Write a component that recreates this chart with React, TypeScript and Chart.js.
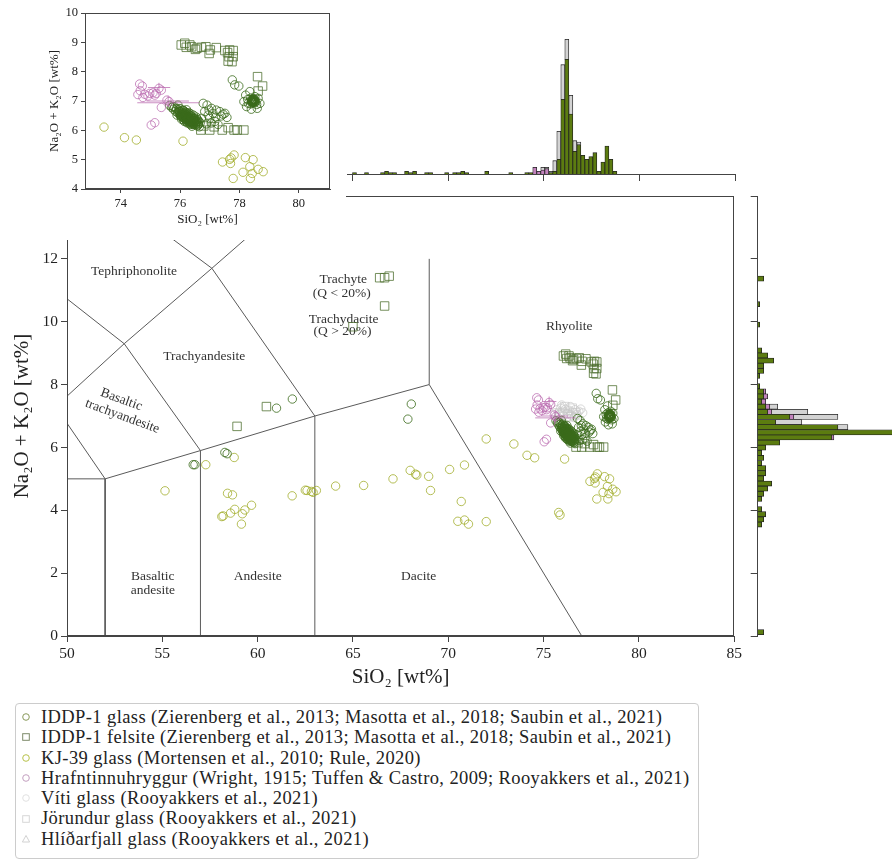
import React, { useEffect, useRef } from 'react';
import { Chart, registerables } from 'chart.js';
Chart.register(...registerables);

const FONT = "'Liberation Serif', 'Times New Roman', serif";
Chart.defaults.font.family = FONT;

// ---------- ticks ----------
const mainXTicks = [50, 55, 60, 65, 70, 75, 80, 85];
const mainYTicks = [0, 2, 4, 6, 8, 10, 12, 14];
const insetXTicks = [74, 76, 78, 80];
const insetYTicks = [4, 5, 6, 7, 8, 9, 10];
const topHistTicks = [65, 70, 75, 80, 85];
const rightHistTicks = [0, 2, 4, 6, 8, 10, 12, 14];

// ---------- TAS boundaries (SiO2, Na2O+K2O) ----------
const tasB1 = [[50, 5], [52, 5], [52, 0]];
const tasB2 = [[52, 5], [57, 5.9], [63, 7], [69, 8], [77, 0]];
const tasB3 = [[57, 0], [57, 5.9]];
const tasB4 = [[63, 0], [63, 7]];
const tasB5 = [[69, 8], [69, 12]];
const tasB6 = [[50, 6.77], [52, 5]];
const tasB7 = [[50, 7.63], [53, 9.3], [57.6, 11.7], [61, 13.5]];
const tasB8 = [[53, 9.3], [57, 5.9]];
const tasB9 = [[50, 10.73], [53, 9.3]];
const tasB10 = [[57.6, 11.7], [63, 7]];
const tasB11 = [[52.5, 14], [57.6, 11.7]];
const tasBoundaries = [tasB1, tasB2, tasB3, tasB4, tasB5, tasB6, tasB7, tasB8, tasB9, tasB10, tasB11];

const tasLabelItems = [
  { t: 'Tephriphonolite', x: 53.51, y: 11.6, r: 0 },
  { t: 'Trachyandesite', x: 57.2, y: 8.89, r: 0 },
  { t: 'Basaltic', x: 52.85, y: 7.52, r: 20 },
  { t: 'trachyandesite', x: 52.9, y: 6.99, r: 20 },
  { t: 'Trachyte', x: 64.49, y: 11.34, r: 0 },
  { t: '(Q < 20%)', x: 64.41, y: 10.89, r: 0 },
  { t: 'Trachydacite', x: 64.51, y: 10.06, r: 0 },
  { t: '(Q > 20%)', x: 64.45, y: 9.69, r: 0 },
  { t: 'Rhyolite', x: 76.35, y: 9.84, r: 0 },
  { t: 'Basaltic', x: 54.5, y: 1.88, r: 0 },
  { t: 'andesite', x: 54.5, y: 1.46, r: 0 },
  { t: 'Andesite', x: 60.0, y: 1.88, r: 0 },
  { t: 'Dacite', x: 68.44, y: 1.88, r: 0 },
];

// ---------- scatter series [SiO2, Na2O+K2O] ----------
const iddpGlass = [
  [56.62, 5.45], [56.71, 5.45], [58.28, 5.84], [58.40, 5.80], [60.99, 7.25], [61.82, 7.54], [68.06, 7.38], [67.88, 6.90],
  [77.76, 7.72], [77.84, 7.55], [77.98, 7.51],
  [78.21, 7.20], [78.35, 7.32], [78.15, 6.98], [78.24, 6.81], [78.40, 6.72], [78.60, 6.75], [78.69, 6.92], [78.63, 7.09],
  [78.52, 7.15], [78.37, 6.90], [78.55, 6.98], [78.45, 7.00], [78.48, 7.03], [78.42, 6.97], [78.50, 6.95], [78.46, 7.06],
  [78.40, 7.04], [78.53, 7.02], [78.44, 6.93], [78.38, 7.10], [78.28, 7.05], [78.58, 6.88], [78.30, 6.92],
  [78.44, 7.00], [78.47, 6.98], [78.49, 7.01], [78.43, 7.03], [78.51, 6.99], [78.46, 6.96], [78.41, 7.00], [78.48, 7.08],
  [78.45, 7.04], [78.50, 7.05], [78.42, 6.94], [78.52, 6.94],
  [76.78, 6.92], [76.91, 6.86], [77.06, 6.75], [77.22, 6.69], [77.34, 6.64], [77.51, 6.58], [77.58, 6.44], [77.39, 6.49],
  [77.11, 6.58], [77.00, 6.41], [77.17, 6.30], [77.28, 6.20], [76.89, 6.22], [76.72, 6.41], [76.83, 6.64], [76.98, 6.69],
  [75.76, 6.81], [75.93, 6.86], [76.10, 6.69], [77.45, 6.55], [77.05, 6.25], [76.95, 6.52], [77.20, 6.45],
  [75.65, 6.85], [75.72, 6.78], [75.78, 6.72], [75.82, 6.80], [75.85, 6.65], [75.88, 6.74], [75.92, 6.60], [75.95, 6.70],
  [75.98, 6.55], [76.00, 6.64], [76.02, 6.48], [76.05, 6.58], [76.08, 6.68], [76.10, 6.45], [76.12, 6.55], [76.15, 6.40],
  [76.18, 6.50], [76.20, 6.60], [76.22, 6.35], [76.25, 6.46], [76.28, 6.55], [76.30, 6.30], [76.32, 6.42], [76.35, 6.50],
  [76.38, 6.26], [76.40, 6.36], [76.42, 6.45], [76.45, 6.22], [76.48, 6.32], [76.50, 6.40], [76.52, 6.18], [76.55, 6.28],
  [76.58, 6.15], [76.60, 6.35], [76.62, 6.22], [76.65, 6.12], [76.68, 6.26], [76.05, 6.38], [76.15, 6.30], [76.25, 6.25],
  [76.35, 6.20], [76.45, 6.52], [76.55, 6.45], [76.00, 6.74], [75.90, 6.52], [76.18, 6.62], [76.40, 6.14], [76.30, 6.60],
  [76.12, 6.35], [76.22, 6.70], [76.08, 6.52], [76.28, 6.38], [76.38, 6.48], [76.48, 6.20], [76.58, 6.38], [76.20, 6.42],
  [76.33, 6.33], [76.43, 6.28], [76.27, 6.48], [76.17, 6.56],
  [75.96, 6.62], [76.03, 6.56], [76.06, 6.50], [76.09, 6.60], [76.11, 6.48], [76.13, 6.42], [76.14, 6.58], [76.16, 6.46],
  [76.19, 6.38], [76.21, 6.52], [76.23, 6.44], [76.24, 6.32], [76.26, 6.40], [76.29, 6.46], [76.31, 6.36], [76.34, 6.28],
  [76.36, 6.40], [76.37, 6.32], [76.39, 6.42], [76.41, 6.24], [76.44, 6.34], [76.46, 6.26], [76.47, 6.40], [76.49, 6.30],
  [76.51, 6.24], [76.53, 6.34], [76.56, 6.22], [76.57, 6.30], [76.61, 6.18], [76.63, 6.30], [76.05, 6.45], [76.10, 6.55],
  [76.15, 6.50], [76.20, 6.46], [76.25, 6.36], [76.30, 6.42], [76.35, 6.34], [76.40, 6.30], [76.45, 6.36], [76.50, 6.32],
  [76.22, 6.28], [76.32, 6.24], [76.42, 6.20], [76.02, 6.52], [75.98, 6.66], [76.14, 6.66], [76.26, 6.58], [76.36, 6.56],
];

const iddpFelsite = [
  [66.40, 11.40], [66.66, 11.40], [66.90, 11.45], [66.66, 10.50], [65.00, 9.84], [60.46, 7.30], [58.92, 6.67],
  [76.04, 8.91], [76.16, 8.97], [76.21, 8.83], [76.33, 8.91], [76.39, 8.85], [76.52, 8.76], [76.57, 8.80], [76.72, 8.83],
  [76.87, 8.85], [77.02, 8.74], [76.98, 8.62], [77.22, 8.82], [77.51, 8.72], [77.60, 8.65], [77.67, 8.74], [77.79, 8.72],
  [77.62, 8.36], [77.75, 8.34], [77.79, 8.51], [77.65, 8.51],
  [78.61, 7.83], [78.78, 7.51], [78.63, 7.34],
  [76.70, 6.01], [77.00, 6.01], [77.42, 6.01], [77.62, 6.09], [77.82, 6.01], [77.93, 6.01], [78.15, 6.01],
  [76.80, 6.15], [77.15, 6.12],
];

const kj39Glass = [
  [55.14, 4.62], [58.42, 4.54], [58.68, 4.49], [59.68, 4.16], [59.33, 4.01], [58.80, 4.03], [59.20, 3.89], [58.58, 3.91],
  [58.19, 3.82], [58.12, 3.80], [59.15, 3.56], [58.77, 5.68], [57.28, 5.45], [61.81, 4.46], [62.50, 4.64], [62.59, 4.63],
  [62.82, 4.60], [63.08, 4.63], [62.91, 4.57], [64.09, 4.77], [65.56, 4.79], [67.10, 5.00], [68.00, 5.27], [68.28, 5.15],
  [68.35, 5.12], [68.97, 5.08], [69.07, 4.63], [70.07, 5.30], [70.85, 5.44], [70.68, 4.28], [70.50, 3.65], [70.85, 3.69],
  [71.06, 3.56], [71.99, 3.64], [71.99, 6.27], [73.44, 6.11], [74.13, 5.75], [74.53, 5.67], [75.79, 3.93], [75.86, 3.85],
  [76.10, 5.63], [77.43, 4.92], [77.67, 5.01], [77.70, 4.87], [77.72, 5.06], [77.82, 5.16], [77.79, 4.36], [78.12, 4.57],
  [78.20, 5.07], [78.35, 4.76], [78.46, 5.00], [78.43, 4.53], [78.37, 4.36], [78.63, 4.67], [78.80, 4.59],
];

const hrafnGlass = [
  [74.64, 7.58], [74.73, 7.51], [74.66, 7.35], [74.58, 7.22], [74.81, 7.23], [74.92, 7.17], [74.98, 7.26], [75.09, 7.28],
  [75.15, 7.20], [75.20, 7.26], [75.37, 7.37], [75.29, 7.43], [75.56, 7.03], [75.63, 6.98], [75.37, 6.78], [75.03, 6.18],
  [75.15, 6.26], [74.75, 7.12],
];
// horizontal error bars [xFrom, xTo, y] and vertical [x, yFrom, yTo]
const hrafnErrH = [[74.92, 75.67, 7.46], [74.56, 76.66, 6.94], [74.87, 76.30, 7.00]];
const hrafnErrV = [[75.29, 7.32, 7.62], [75.60, 6.80, 7.18]];

const vitiGlass = [
  [75.60, 7.10], [75.70, 7.20], [75.80, 7.05], [75.90, 7.25], [76.00, 7.15], [76.05, 7.00], [76.15, 7.22], [76.25, 7.08],
  [76.35, 7.18], [76.45, 7.02], [76.55, 7.12], [76.65, 7.20], [76.75, 7.05], [76.85, 7.15], [76.95, 7.22], [77.05, 7.10],
  [75.75, 6.95], [76.20, 6.92], [76.40, 7.30], [75.95, 7.35], [76.60, 6.95],
];
const jorundurGlass = [[75.85, 7.10], [76.10, 7.30], [76.30, 6.98], [76.50, 7.25], [76.70, 7.10]];
const hlidarfjallGlass = [[75.70, 7.00], [76.00, 7.28], [76.40, 7.12], [76.80, 6.98]];

// ---------- histograms ----------
// top (SiO2): bin j starts at topBinOrigin + topBinWidth*j ; green listed for j = -44 .. 22
const topBinOrigin = 74.0;
const topBinWidth = 0.2096;
const topFirstBin = -44;
const topHistGreen = [
  0, 1, 0, 0, 1, 0, 0, 0, 1, 2,
  1, 1, 0, 0, 2, 1, 2, 0, 0, 1,
  1, 0, 0, 0, 1, 0, 1, 1, 2, 1,
  0, 0, 0, 0, 2, 0, 0, 0, 0, 0,
  1, 0, 0, 0, 1, 1, 0, 0, 0, 0,
  1, 2, 11, 56, 86, 45, 17, 22, 14, 11,
  13, 16, 2, 9, 21, 11, 2,
];
const topHistPink: Record<number, number> = { 2: 5, 3: 2, 4: 3, 5: 4 };
const topHistGray: Record<number, number> = { 4: 2, 5: 1, 6: 1, 7: 8, 8: 21, 9: 26, 10: 15, 11: 14, 12: 8, 13: 2 };

// right (Na2O+K2O): bin m starts at rightBinOrigin + rightBinWidth*m
const rightBinOrigin = 6.40;
const rightBinWidth = 0.163;
const rightFirstBin = -39;
const rightLastBin = 30;
const rightHistGreen: Record<number, number> = {
  [-39]: 3, [-18]: 2, [-17]: 3, [-16]: 4, [-15]: 2, [-13]: 2, [-12]: 3, [-11]: 5, [-10]: 7, [-9]: 3, [-8]: 4,
  [-7]: 4, [-6]: 2, [-5]: 3, [-4]: 2, [-3]: 4, [-2]: 11, [-1]: 37, 0: 72, 1: 40, 2: 9, 3: 16, 4: 5, 5: 4, 6: 2,
  7: 3, 8: 3, 9: 1, 11: 1, 12: 3, 13: 3, 14: 8, 15: 5, 16: 2, 21: 1, 25: 1, 30: 3,
};
const rightHistPink: Record<number, number> = { [-1]: 1, 3: 2, 4: 2, 5: 2, 6: 2, 7: 2, 8: 1 };
const rightHistGray: Record<number, number> = { 1: 5, 2: 13, 3: 22, 4: 18, 5: 4 };

// ---------- styles ----------
const C_GLASS = 'rgba(58,106,26,0.8)';
const C_FELS = 'rgba(78,112,48,0.78)';
const C_KJ = 'rgba(160,172,40,0.78)';
const C_HRAF = 'rgba(185,105,175,0.75)';
const C_GRAY = 'rgba(200,200,200,0.7)';
const AXIS = '#444';
const H_GREEN = '#5c7c10';
const H_PINK = '#c283bd';
const H_GRAY = '#d3d3d3';
const H_EDGE = '#222';

const legendItems = [
  { shape: 'circle', color: '#8a9a5b', text: 'IDDP-1 glass (Zierenberg et al., 2013; Masotta et al., 2018; Saubin et al., 2021)' },
  { shape: 'square', color: '#7d8a6a', text: 'IDDP-1 felsite (Zierenberg et al., 2013; Masotta et al., 2018; Saubin et al., 2021)' },
  { shape: 'circle', color: '#b8c24a', text: 'KJ-39 glass (Mortensen et al., 2010; Rule, 2020)' },
  { shape: 'circle', color: '#c4a0c0', text: 'Hrafntinnuhryggur (Wright, 1915; Tuffen & Castro, 2009; Rooyakkers et al., 2021)' },
  { shape: 'circle', color: '#e2e2e2', text: 'Víti glass (Rooyakkers et al., 2021)' },
  { shape: 'square', color: '#d8d8d8', text: 'Jörundur glass (Rooyakkers et al., 2021)' },
  { shape: 'triangle', color: '#d2d2d2', text: 'Hlíðarfjall glass (Rooyakkers et al., 2021)' },
];

type Range = { x0: number; x1: number; y0: number; y1: number } | null;

function pts(a: number[][], rng: Range = null) {
  const f = rng ? a.filter(([x, y]) => x >= rng.x0 && x <= rng.x1 && y >= rng.y0 && y <= rng.y1) : a;
  return f.map(([x, y]) => ({ x, y }));
}

function scatterSet(data: number[][], color: string, style: string, r: number, rng: Range) {
  return {
    data: pts(data, rng),
    pointStyle: style,
    pointRadius: r,
    pointHoverRadius: r,
    pointBorderColor: color,
    pointBackgroundColor: 'rgba(0,0,0,0)',
    pointBorderWidth: 1,
    borderColor: color,
    backgroundColor: 'rgba(0,0,0,0)',
    showLine: false,
    clip: 0,
  };
}

function lineSet(data: number[][], color: string, width: number) {
  return {
    data: pts(data),
    showLine: true,
    pointRadius: 0,
    pointHoverRadius: 0,
    borderColor: color,
    borderWidth: width,
    fill: false,
    clip: 0,
  };
}

function sampleDatasets(isMain: boolean) {
  const rng: Range = isMain ? null : { x0: 72.8, x1: 81.05, y0: 4, y1: 10 };
  const sets: any[] = [];
  hrafnErrH.forEach(([a, b, y]) => sets.push(lineSet([[a, y], [b, y]], C_HRAF, 1)));
  hrafnErrV.forEach(([x, a, b]) => sets.push(lineSet([[x, a], [x, b]], C_HRAF, 1)));
  sets.push(scatterSet(hrafnGlass, C_HRAF, 'circle', 4.2, rng));
  sets.push(scatterSet(iddpGlass, C_GLASS, 'circle', 4.2, rng));
  sets.push(scatterSet(iddpFelsite, C_FELS, 'rect', 6, rng));
  sets.push(scatterSet(kj39Glass, C_KJ, 'circle', 4.2, rng));
  if (isMain) {
    sets.push(scatterSet(vitiGlass, C_GRAY, 'circle', 4.2, rng));
    sets.push(scatterSet(jorundurGlass, C_GRAY, 'rect', 6, rng));
    sets.push(scatterSet(hlidarfjallGlass, C_GRAY, 'triangle', 5, rng));
    tasBoundaries.forEach((b) => sets.push(lineSet(b, '#5a5a5a', 1)));
  }
  return sets;
}

const framePlugin = {
  id: 'frameBox',
  afterDraw(chart: any) {
    const { ctx, chartArea } = chart;
    const l = Math.round(chartArea.left) + 0.5;
    const t = Math.round(chartArea.top) + 0.5;
    const r = Math.round(chartArea.right) - 0.5;
    const b = Math.round(chartArea.bottom) - 0.5;
    ctx.save();
    ctx.strokeStyle = AXIS;
    ctx.lineWidth = 1;
    ctx.strokeRect(l, t, r - l, b - t);
    ctx.restore();
  },
};

const tasLabelPlugin = {
  id: 'tasLabels',
  beforeDatasetsDraw(chart: any) {
    const { ctx, scales } = chart;
    ctx.save();
    ctx.font = `13.5px ${FONT}`;
    ctx.fillStyle = '#333';
    ctx.textAlign = 'center';
    ctx.textBaseline = 'middle';
    tasLabelItems.forEach((it) => {
      const px = scales.x.getPixelForValue(it.x);
      const py = scales.y.getPixelForValue(it.y);
      ctx.save();
      ctx.translate(px, py);
      ctx.rotate((it.r * Math.PI) / 180);
      ctx.fillText(it.t, 0, 0);
      ctx.restore();
    });
    ctx.restore();
  },
};

function axisCommon(tickVals: number[], fontSize: number, showLabels: boolean, tickLen: number) {
  return {
    type: 'linear',
    afterBuildTicks: (axis: any) => {
      axis.ticks = tickVals.map((v) => ({ value: v }));
    },
    grid: { display: true, drawOnChartArea: false, drawTicks: true, tickLength: tickLen, color: AXIS, tickColor: AXIS, offset: false },
    border: { display: true, color: AXIS, width: 1 },
    ticks: { display: showLabels, color: '#222', font: { size: fontSize, family: FONT }, padding: 3, maxRotation: 0, autoSkip: false },
  };
}

export default function App() {
  const mainRef = useRef<HTMLCanvasElement>(null);
  const insetRef = useRef<HTMLCanvasElement>(null);
  const topRef = useRef<HTMLCanvasElement>(null);
  const rightRef = useRef<HTMLCanvasElement>(null);

  useEffect(() => {
    const charts: Chart[] = [];

    // ---- main TAS chart ----
    charts.push(
      new Chart(mainRef.current as HTMLCanvasElement, {
        type: 'scatter',
        data: { datasets: sampleDatasets(true) },
        options: {
          responsive: false,
          animation: false,
          events: [],
          layout: { padding: { left: 0, right: 10, top: 196, bottom: 0 } },
          plugins: { legend: { display: false }, tooltip: { enabled: false } },
          scales: {
            x: {
              ...axisCommon(mainXTicks, 15.5, true, 6),
              min: 50,
              max: 85,
              afterFit: (s: any) => { s.height = 64; },
              title: { display: true, text: 'SiO₂ [wt%]', color: '#222', font: { size: 21, family: FONT }, padding: { top: 0, bottom: 10 } },
            },
            y: {
              ...axisCommon(mainYTicks, 15.5, true, 6),
              min: 0,
              max: 14,
              afterFit: (s: any) => { s.width = 67; },
              title: { display: true, text: 'Na₂O + K₂O [wt%]', color: '#222', font: { size: 21, family: FONT }, padding: { top: 10, bottom: 0 } },
            },
          },
        } as any,
        plugins: [framePlugin, tasLabelPlugin],
      } as any)
    );

    // ---- inset ----
    charts.push(
      new Chart(insetRef.current as HTMLCanvasElement, {
        type: 'scatter',
        data: { datasets: sampleDatasets(false) },
        options: {
          responsive: false,
          animation: false,
          events: [],
          layout: { padding: { left: 0, right: 16, top: 13, bottom: 0 } },
          plugins: { legend: { display: false }, tooltip: { enabled: false } },
          scales: {
            x: {
              ...axisCommon(insetXTicks, 12.5, true, 4),
              min: 72.8,
              max: 81.05,
              afterFit: (s: any) => { s.height = 51; },
              title: { display: true, text: 'SiO₂ [wt%]', color: '#222', font: { size: 13, family: FONT }, padding: { top: 0, bottom: 13 } },
            },
            y: {
              ...axisCommon(insetYTicks, 12.5, true, 4),
              min: 4,
              max: 10,
              afterFit: (s: any) => { s.width = 85; },
              title: { display: true, text: 'Na₂O + K₂O [wt%]', color: '#222', font: { size: 13, family: FONT }, padding: { top: 47, bottom: 0 } },
            },
          },
        } as any,
        plugins: [framePlugin],
      } as any)
    );

    // ---- top histogram ----
    const topBins: number[] = topHistGreen.map((_, i) => topFirstBin + i);
    const topCenter = (j: number) => topBinOrigin + topBinWidth * (j + 0.5);
    const barStyle = { borderColor: H_EDGE, borderWidth: 0.8, barPercentage: 1, categoryPercentage: 1, borderSkipped: 'start' };
    charts.push(
      new Chart(topRef.current as HTMLCanvasElement, {
        type: 'bar',
        data: {
          datasets: [
            { ...barStyle, backgroundColor: H_GREEN, stack: 's', data: topBins.map((j, i) => ({ x: topCenter(j), y: topHistGreen[i] })) },
            { ...barStyle, backgroundColor: H_PINK, stack: 's', data: topBins.map((j) => ({ x: topCenter(j), y: topHistPink[j] || 0 })) },
            { ...barStyle, backgroundColor: H_GRAY, stack: 's', data: topBins.map((j) => ({ x: topCenter(j), y: topHistGray[j] || 0 })) },
          ],
        },
        options: {
          responsive: false,
          animation: false,
          events: [],
          layout: { padding: { left: 7, right: 5, top: 20, bottom: 0 } },
          plugins: { legend: { display: false }, tooltip: { enabled: false } },
          scales: {
            x: {
              ...axisCommon(topHistTicks, 10, false, 7),
              min: 64.7,
              max: 85,
              stacked: true,
              offset: false,
              afterFit: (s: any) => { s.height = 16; },
            },
            y: { type: 'linear', display: false, min: 0, max: 115.5, stacked: true },
          },
        } as any,
      } as any)
    );

    // ---- right histogram ----
    const rightBins: number[] = [];
    for (let m = rightFirstBin; m <= rightLastBin; m++) rightBins.push(m);
    const rightCenter = (m: number) => rightBinOrigin + rightBinWidth * (m + 0.5);
    charts.push(
      new Chart(rightRef.current as HTMLCanvasElement, {
        type: 'bar',
        data: {
          datasets: [
            { ...barStyle, backgroundColor: H_GREEN, stack: 's', data: rightBins.map((m) => ({ y: rightCenter(m), x: rightHistGreen[m] || 0 })) },
            { ...barStyle, backgroundColor: H_PINK, stack: 's', data: rightBins.map((m) => ({ y: rightCenter(m), x: rightHistPink[m] || 0 })) },
            { ...barStyle, backgroundColor: H_GRAY, stack: 's', data: rightBins.map((m) => ({ y: rightCenter(m), x: rightHistGray[m] || 0 })) },
          ],
        },
        options: {
          indexAxis: 'y',
          responsive: false,
          animation: false,
          events: [],
          layout: { padding: { left: 0, right: 0, top: 6, bottom: 14 } },
          plugins: { legend: { display: false }, tooltip: { enabled: false } },
          scales: {
            y: {
              ...axisCommon(rightHistTicks, 10, false, 7),
              position: 'left',
              min: 0,
              max: 14,
              stacked: true,
              offset: false,
              afterFit: (s: any) => { s.width = 12.7; },
            },
            x: { type: 'linear', display: false, min: 0, max: 67, stacked: true },
          },
        } as any,
      } as any)
    );

    return () => charts.forEach((c) => c.destroy());
  }, []);

  const abs = (l: number, t: number, w: number, h: number): React.CSSProperties => ({
    position: 'absolute', left: l, top: t, width: w, height: h,
  });

  return (
    <div style={{ position: 'absolute', left: 0, top: 0, width: 892, height: 866, background: '#fff', overflow: 'hidden' }}>
      <canvas ref={mainRef} width={745} height={700} style={abs(0, 0, 745, 700)} />
      <canvas ref={insetRef} width={346} height={240} style={{ ...abs(0, 0, 346, 240), background: '#fff' }} />
      <canvas ref={topRef} width={400} height={190} style={abs(340, 0, 400, 190)} />
      <canvas ref={rightRef} width={147} height={460} style={abs(745, 190, 147, 460)} />
      <div
        style={{
          ...abs(15, 703, 684, 156),
          border: '1px solid #cccccc',
          borderRadius: 4,
          boxSizing: 'border-box',
          background: '#fff',
          fontFamily: FONT,
          fontSize: 18.5,
          letterSpacing: 0.4,
          color: '#222',
          paddingTop: 3,
        }}
      >
        {legendItems.map((it, i) => (
          <div key={i} style={{ height: 20.3, lineHeight: '20.3px', display: 'flex', alignItems: 'center', whiteSpace: 'nowrap' }}>
            <svg width={10} height={10} style={{ marginLeft: 5, marginRight: 10, flex: 'none' }}>
              {it.shape === 'circle' && <circle cx={5} cy={5} r={3.3} fill="none" stroke={it.color} strokeWidth={1} />}
              {it.shape === 'square' && <rect x={1.7} y={1.7} width={6.6} height={6.6} fill="none" stroke={it.color} strokeWidth={1} />}
              {it.shape === 'triangle' && <polygon points="5,1.5 8.6,8 1.4,8" fill="none" stroke={it.color} strokeWidth={1} />}
            </svg>
            <span>{it.text}</span>
          </div>
        ))}
      </div>
    </div>
  );
}
